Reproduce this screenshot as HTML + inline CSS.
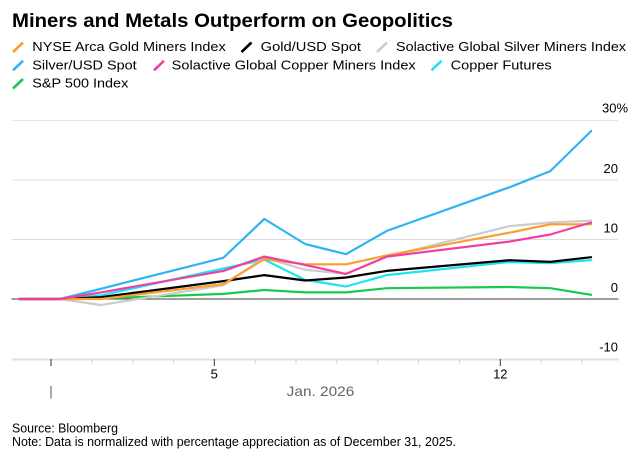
<!DOCTYPE html>
<html>
<head>
<meta charset="utf-8">
<style>
  html,body{margin:0;padding:0;background:#fff;}
  svg{display:block;font-family:"Liberation Sans",Arial,sans-serif;}
</style>
</head>
<body>
<svg width="641" height="459" viewBox="0 0 641 459" xmlns="http://www.w3.org/2000/svg">
  <rect width="641" height="459" fill="#fff"/>

  <!-- Title -->
  <text x="12" y="27" font-size="19" font-weight="bold" fill="#000" textLength="441" lengthAdjust="spacingAndGlyphs">Miners and Metals Outperform on Geopolitics</text>

  <!-- Legend swatches -->
  <g stroke-width="2.6" stroke-linecap="butt">
    <line x1="13" y1="52" x2="23" y2="42.5" stroke="#FB9E2E"/>
    <line x1="241.5" y1="52" x2="251.5" y2="42.5" stroke="#000"/>
    <line x1="377" y1="52" x2="387" y2="42.5" stroke="#CCCCCC"/>
    <line x1="13" y1="70.3" x2="23" y2="60.8" stroke="#2FB3F5"/>
    <line x1="154" y1="70.3" x2="164" y2="60.8" stroke="#F03FA1"/>
    <line x1="431.5" y1="70.3" x2="441.5" y2="60.8" stroke="#1EE3F0"/>
    <line x1="13" y1="88.5" x2="23" y2="79" stroke="#18C94E"/>
  </g>
  <!-- Legend text -->
  <g font-size="13" fill="#000">
    <text x="32.3" y="51" textLength="193.4" lengthAdjust="spacingAndGlyphs">NYSE Arca Gold Miners Index</text>
    <text x="260.7" y="51" textLength="100.3" lengthAdjust="spacingAndGlyphs">Gold/USD Spot</text>
    <text x="396" y="51" textLength="230" lengthAdjust="spacingAndGlyphs">Solactive Global Silver Miners Index</text>
    <text x="32.3" y="69.3" textLength="104.4" lengthAdjust="spacingAndGlyphs">Silver/USD Spot</text>
    <text x="171.7" y="69.3" textLength="244" lengthAdjust="spacingAndGlyphs">Solactive Global Copper Miners Index</text>
    <text x="450.7" y="69.3" textLength="101" lengthAdjust="spacingAndGlyphs">Copper Futures</text>
    <text x="32.3" y="87.5" textLength="96" lengthAdjust="spacingAndGlyphs">S&amp;P 500 Index</text>
  </g>

  <!-- Gridlines -->
  <g stroke="#dcdcdc" stroke-width="1">
    <line x1="12" y1="120.5" x2="618" y2="120.5" stroke="#e6e6e6"/>
    <line x1="12" y1="180" x2="618" y2="180"/>
    <line x1="12" y1="239.5" x2="618" y2="239.5"/>
  </g>
  <line x1="12" y1="359.5" x2="619" y2="359.5" stroke="#e0e0e0" stroke-width="2"/>

  <!-- Y labels -->
  <g font-size="13" fill="#000">
    <text x="602" y="112.7">30%</text>
    <text x="618" y="173" text-anchor="end">20</text>
    <text x="618" y="232.7" text-anchor="end">10</text>
    <text x="618" y="292" text-anchor="end">0</text>
    <text x="618" y="351.5" text-anchor="end">-10</text>
  </g>

  <!-- X ticks -->
  <g stroke="#cfcfcf" stroke-width="1">
    <line x1="91.9" y1="359" x2="91.9" y2="363.5"/>
    <line x1="132.7" y1="359" x2="132.7" y2="363.5"/>
    <line x1="173.6" y1="359" x2="173.6" y2="363.5"/>
    <line x1="255.2" y1="359" x2="255.2" y2="363.5"/>
    <line x1="296.0" y1="359" x2="296.0" y2="363.5"/>
    <line x1="336.9" y1="359" x2="336.9" y2="363.5"/>
    <line x1="377.7" y1="359" x2="377.7" y2="363.5"/>
    <line x1="418.6" y1="359" x2="418.6" y2="363.5"/>
    <line x1="459.4" y1="359" x2="459.4" y2="363.5"/>
    <line x1="541.2" y1="359" x2="541.2" y2="363.5"/>
    <line x1="582.0" y1="359" x2="582.0" y2="363.5"/>
  </g>
  <g stroke="#333" stroke-width="1">
    <line x1="51" y1="359" x2="51" y2="366"/>
    <line x1="214.3" y1="359" x2="214.3" y2="366"/>
    <line x1="500.3" y1="359" x2="500.3" y2="366"/>
    <line x1="51" y1="386" x2="51" y2="398.5" stroke="#555"/>
  </g>
  <g font-size="13" fill="#000" text-anchor="middle">
    <text x="214.3" y="378.5">5</text>
    <text x="500.3" y="378.5">12</text>
  </g>
  <text x="286.7" y="396" font-size="14" fill="#666" textLength="67.6" lengthAdjust="spacingAndGlyphs">Jan. 2026</text>

  <!-- Series -->
  <g fill="none" stroke-width="2.2" stroke-linejoin="round" stroke-linecap="round">
    <!-- zero line -->
    <line x1="12" y1="299" x2="618" y2="299" stroke="#666" stroke-width="1.2"/>
    <!-- Green S&P -->
    <polyline stroke="#18C94E" points="19.1,299 60,299 100.8,298.4 223.4,293.9 264.3,290 305.1,292.4 346,292.4 386.8,288.2 509.4,287 550.3,288.2 591.1,294.8"/>
    <!-- Cyan Copper Futures -->
    <polyline stroke="#1EE3F0" points="19.1,299 60,299 100.8,295.4 223.4,268.5 264.3,259.6 305.1,279.9 346,286.5 386.8,275.1 509.4,262 550.3,263.2 591.1,260.2"/>
    <!-- Blue Silver -->
    <polyline stroke="#2FB3F5" points="19.1,299 60,299 100.8,288.8 223.4,257.8 264.3,218.9 305.1,244 346,254.2 386.8,230.9 509.4,187.3 550.3,171.1 591.1,131.1"/>
    <!-- Gray Silver miners -->
    <polyline stroke="#CCCCCC" points="19.1,299 60,299 100.8,305 223.4,285.3 264.3,257.8 305.1,269.7 346,273.9 386.8,256.6 509.4,226.1 550.3,222.5 591.1,220.7"/>
    <!-- Black Gold -->
    <polyline stroke="#000" points="19.1,299 60,299 100.8,297.2 223.4,281.1 264.3,275.1 305.1,280.5 346,277.5 386.8,270.9 509.4,260.2 550.3,261.9 591.1,257.2"/>
    <!-- Orange Gold miners -->
    <polyline stroke="#FB9E2E" points="19.1,299 60,299 100.8,299 223.4,284.1 264.3,259 305.1,264.3 346,264.3 386.8,255.4 509.4,232.7 550.3,224.3 591.1,224.3"/>
    <!-- Pink Copper miners -->
    <polyline stroke="#F03FA1" points="19.1,299 60,299 100.8,292.4 223.4,270.9 264.3,256.6 305.1,264.9 346,273.9 386.8,256.6 509.4,241.6 550.3,234.5 591.1,222.5"/>
  </g>

  <!-- Footer -->
  <g font-size="12.5" fill="#000">
    <text x="12" y="432.5" textLength="106" lengthAdjust="spacingAndGlyphs">Source: Bloomberg</text>
    <text x="12" y="446" textLength="444" lengthAdjust="spacingAndGlyphs">Note: Data is normalized with percentage appreciation as of December 31, 2025.</text>
  </g>
</svg>
</body>
</html>
